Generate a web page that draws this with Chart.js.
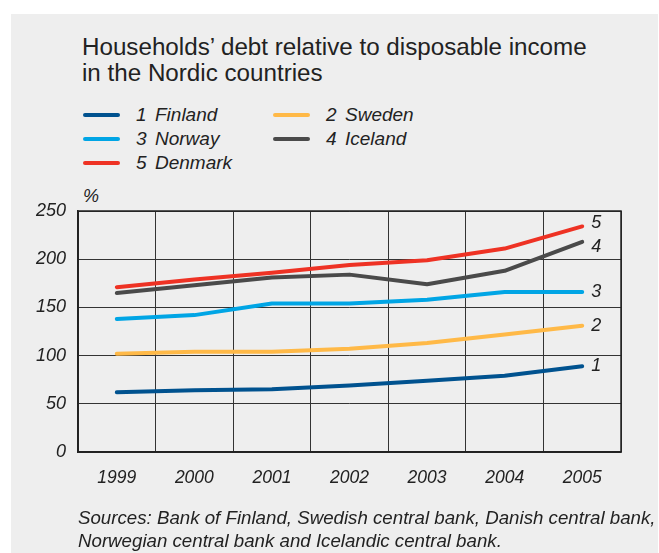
<!DOCTYPE html>
<html>
<head>
<meta charset="utf-8">
<script src="https://cdn.jsdelivr.net/npm/chart.js@4/dist/chart.umd.min.js"></script>
<style>
  html, body { margin: 0; padding: 0; background: #ffffff; }
  #wrap { position: relative; width: 659px; height: 553px; overflow: hidden;
          font-family: "Liberation Sans", Arial, sans-serif; color: #222222; }
  #panel { position: absolute; left: 11px; top: 14px; width: 647px; height: 539px; background: #eeeeee; }
  #title { position: absolute; left: 82px; top: 34px; font-size: 24.2px; line-height: 26px; white-space: nowrap; }
  #legend { position: absolute; left: 83px; top: 103px; display: grid;
            grid-template-columns: 190px 190px; grid-auto-rows: 24px; }
  .item { display: flex; align-items: center; font-size: 19px; font-style: italic; white-space: nowrap; }
  .swatch { width: 37px; height: 4px; border-radius: 2px; margin-right: 16px; }
  .num { width: 19px; }
  #pct { position: absolute; left: 83px; top: 186px; font-size: 18px; font-style: italic; }
  #src { position: absolute; left: 78px; top: 506px; font-size: 18.7px; font-style: italic;
         line-height: 23px; white-space: nowrap; }
  #chart { position: absolute; left: 0; top: 0; }
</style>
</head>
<body>
<div id="wrap">
  <div id="panel"></div>
  <div id="title">Households’ debt relative to disposable income<br>in the Nordic countries</div>
  <div id="legend"></div>
  <div id="pct">%</div>
  <canvas id="chart" width="659" height="553"></canvas>
  <div id="src">Sources: Bank of Finland, Swedish central bank, Danish central bank,<br>Norwegian central bank and Icelandic central bank.</div>
</div>
<script>
// Years on the x axis
const years = ['1999', '2000', '2001', '2002', '2003', '2004', '2005'];

// Household debt as % of disposable income
const finland = [62, 64, 65, 69, 74, 79, 89];
const sweden  = [102, 104, 104, 107, 113, 122, 131];
const norway  = [138, 142, 154, 154, 158, 166, 166];
const iceland = [165, 173, 181, 184, 174, 188, 218];
const denmark = [171, 179, 186, 194, 199, 211, 234];

// Series names, their reference numbers and colours
const countryNames = ['Finland', 'Sweden', 'Norway', 'Iceland', 'Denmark'];
const seriesNumbers = ['1', '2', '3', '4', '5'];
const seriesColors = ['#00528f', '#ffb947', '#00a5e5', '#4a4a4a', '#ee3224'];
const seriesValues = [finland, sweden, norway, iceland, denmark];

// Y axis tick range
const yMin = 0, yMax = 250, yStep = 50;

const FONT = '"Liberation Sans", Arial, sans-serif';

// Legend in two columns: 1 2 / 3 4 / 5
const legendEl = document.getElementById('legend');
countryNames.forEach((name, i) => {
  const item = document.createElement('div');
  item.className = 'item';
  const sw = document.createElement('span');
  sw.className = 'swatch';
  sw.style.background = seriesColors[i];
  const num = document.createElement('span');
  num.className = 'num';
  num.textContent = seriesNumbers[i];
  const label = document.createElement('span');
  label.textContent = name;
  item.append(sw, num, label);
  legendEl.appendChild(item);
});

// Numbers written just right of each line's last point
const endLabels = {
  id: 'endLabels',
  afterDatasetsDraw(chart) {
    const ctx = chart.ctx;
    const nudgeY = { '5': -3, '4': 5 };
    ctx.save();
    ctx.font = 'italic 18px ' + FONT;
    ctx.fillStyle = '#222222';
    ctx.textAlign = 'left';
    ctx.textBaseline = 'middle';
    chart.data.datasets.forEach((ds, i) => {
      const meta = chart.getDatasetMeta(i);
      const pt = meta.data[meta.data.length - 1];
      const n = seriesNumbers[i];
      ctx.fillText(n, pt.x + 9, pt.y + (nudgeY[n] || 0));
    });
    ctx.restore();
  }
};

new Chart(document.getElementById('chart'), {
  type: 'line',
  data: {
    labels: years,
    datasets: countryNames.map((name, i) => ({
      label: name,
      data: seriesValues[i],
      borderColor: seriesColors[i],
      backgroundColor: seriesColors[i],
      borderWidth: 4,
      borderCapStyle: 'round',
      borderJoinStyle: 'round',
      pointRadius: 0,
      tension: 0,
      fill: false
    }))
  },
  options: {
    responsive: false,
    animation: false,
    devicePixelRatio: 1,
    layout: { padding: { top: 211, left: 0, right: 38, bottom: 0 } },
    plugins: {
      legend: { display: false },
      title: { display: false },
      tooltip: { enabled: false }
    },
    scales: {
      x: {
        type: 'category',
        offset: true,
        grid: { display: true, offset: true, color: '#333333', lineWidth: 1, drawTicks: false },
        border: { display: true, color: '#222222', width: 1.5 },
        ticks: { color: '#222222', padding: 16, maxRotation: 0,
                 font: { family: FONT, size: 17.5, style: 'italic' } },
        afterFit(scale) { scale.height = 101; }
      },
      y: {
        min: yMin,
        max: yMax,
        ticks: { stepSize: yStep, color: '#222222', padding: 12,
                 font: { family: FONT, size: 18, style: 'italic' } },
        grid: { color: '#333333', lineWidth: 1, drawTicks: false },
        border: { display: true, color: '#222222', width: 1.5 },
        afterFit(scale) { scale.width = 78; }
      }
    }
  },
  plugins: [endLabels, {
    // closing frame on the top and right of the plot
    id: 'frame',
    afterDraw(chart) {
      const a = chart.chartArea, ctx = chart.ctx;
      ctx.save();
      ctx.strokeStyle = '#222222';
      ctx.lineWidth = 1.5;
      ctx.strokeRect(a.left, a.top, a.right - a.left, a.bottom - a.top);
      ctx.restore();
    }
  }]
});
</script>
</body>
</html>
